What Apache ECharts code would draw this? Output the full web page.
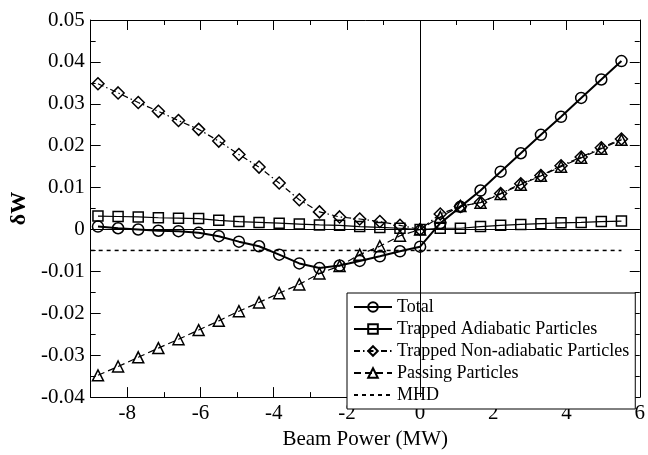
<!DOCTYPE html>
<html>
<head>
<meta charset="utf-8">
<script src="https://cdn.jsdelivr.net/npm/echarts@6/dist/echarts.min.js"></script>
<style>
    html, body { margin: 0; padding: 0; background: #fff; }
    #chart { width: 648px; height: 455px; }
</style>
</head>
<body>
<div id="chart"></div>
<script>
// beam power (MW)
const beamPower = [-8.8, -8.25, -7.7, -7.15, -6.6, -6.05, -5.5, -4.95, -4.4, -3.85, -3.3, -2.75, -2.2,
    -1.65, -1.1, -0.55, 0, 0.55, 1.1, 1.65, 2.2, 2.75, 3.3, 3.85, 4.4, 4.95, 5.5];

const total = [0.0007, 0.0003, 0.0000, -0.0003, -0.0004, -0.0008, -0.0016, -0.0029, -0.0040, -0.0060,
    -0.0081, -0.0092, -0.0086, -0.0075, -0.0064, -0.0052, -0.0041, 0.0015, 0.0054, 0.0093, 0.0138,
    0.0182, 0.0226, 0.0269, 0.0314, 0.0358, 0.0402];

const trappedAdiabatic = [0.0032, 0.0031, 0.0030, 0.0028, 0.0027, 0.0026, 0.0022, 0.0019, 0.0017, 0.0015,
    0.0013, 0.0011, 0.0010, 0.0007, 0.0005, 0.0003, 0.0000, 0.0003, 0.0003, 0.0007, 0.0010,
    0.0012, 0.0014, 0.0016, 0.0017, 0.0019, 0.0020];

const trappedNonAdiabatic = [0.0348, 0.0326, 0.0303, 0.0282, 0.0260, 0.0239, 0.0211, 0.0179, 0.0149, 0.0111,
    0.0071, 0.0042, 0.0030, 0.0025, 0.0019, 0.0010, 0.0000, 0.0037, 0.0055, 0.0065, 0.0086,
    0.0109, 0.0129, 0.0152, 0.0173, 0.0195, 0.0216];

const passing = [-0.0348, -0.0327, -0.0305, -0.0283, -0.0262, -0.0240, -0.0218, -0.0195, -0.0174, -0.0152,
    -0.0131, -0.0105, -0.0087, -0.0060, -0.0040, -0.0015, 0.0000, 0.0030, 0.0056, 0.0064, 0.0085,
    0.0107, 0.0128, 0.0150, 0.0171, 0.0193, 0.0214];

// MHD reference level
const mhdX = [-9, 5.5];
const mhdY = [-0.005, -0.005];

const xMajorTicks = [-8, -6, -4, -2, 0, 2, 4, 6];

function pairs(xs, ys) {
    return xs.map((x, i) => [x, ys[i]]);
}

const font = '"Liberation Serif", "Times New Roman", serif';

let chart = echarts.init(document.getElementById('chart'));

let openMarker = {
    color: 'rgba(0,0,0,0)',
    borderColor: '#000',
    borderWidth: 1.5
};

// short ticks every 1 MW, long ticks every 2 MW
function xAxisPair(pos) {
    let isBottom = pos === 'bottom';
    return [{
        type: 'value', position: pos, min: -9, max: 6, interval: 1,
        axisLine: { show: true, onZero: false, lineStyle: { color: '#000', width: 1 } },
        axisTick: { show: true, inside: true, length: 5, lineStyle: { color: '#000' } },
        axisLabel: {
            show: isBottom, color: '#000', fontFamily: font, fontSize: 21, margin: 6,
            formatter: v => (Math.abs(v) % 2 === 0 ? String(v) : '')
        },
        splitLine: { show: false },
        name: isBottom ? 'Beam Power (MW)' : '',
        nameLocation: 'middle', nameGap: 31,
        nameTextStyle: { color: '#000', fontFamily: font, fontSize: 21 }
    }, {
        type: 'value', position: pos, min: -9, max: 6,
        axisLine: { show: false, onZero: false },
        axisTick: { show: true, inside: true, length: 10, customValues: xMajorTicks, lineStyle: { color: '#000' } },
        axisLabel: { show: false },
        splitLine: { show: false }
    }];
}

function yAxisOf(pos) {
    let isLeft = pos === 'left';
    return {
        type: 'value', position: pos, min: -0.04, max: 0.05, interval: 0.01,
        axisLine: { show: true, onZero: false, lineStyle: { color: '#000', width: 1 } },
        axisTick: { show: true, inside: true, length: 10, lineStyle: { color: '#000' } },
        minorTick: { show: true, splitNumber: 2, length: 5, lineStyle: { color: '#000' } },
        axisLabel: { show: isLeft, color: '#000', fontFamily: font, fontSize: 21, margin: 6 },
        splitLine: { show: false },
        name: isLeft ? 'δW' : '',
        nameLocation: 'middle', nameGap: 54, nameRotate: 90,
        nameTextStyle: { color: '#000', fontFamily: font, fontSize: 22, fontWeight: 'bold' }
    };
}

const option = {
    animation: false,
    backgroundColor: '#fff',
    grid: { left: 86, right: 5, top: 20, bottom: 45 },
    xAxis: xAxisPair('bottom').concat(xAxisPair('top')),
    yAxis: [yAxisOf('left'), yAxisOf('right')],
    legend: {
        orient: 'vertical',
        left: 347, top: 293,
        width: 280,
        padding: [5, 6, 5, 6],
        itemWidth: 38, itemHeight: 12, itemGap: 4,
        borderColor: '#000', borderWidth: 1,
        backgroundColor: '#fff',
        textStyle: { color: '#000', fontFamily: font, fontSize: 18, lineHeight: 18 },
        data: ['Total', 'Trapped Adiabatic Particles', 'Trapped Non-adiabatic Particles', 'Passing Particles',
            { name: 'MHD', itemStyle: { opacity: 0 } }]
    },
    series: [
        {
            name: 'MHD', type: 'line', data: pairs(mhdX, mhdY), symbol: 'none', z: 1,
            lineStyle: { color: '#000', width: 1.5, type: [4, 4] },
            itemStyle: { color: '#000' },
            markLine: {
                silent: true, symbol: ['none', 'none'], label: { show: false },
                lineStyle: { color: '#000', width: 1, type: 'solid' },
                data: [{ xAxis: 0 }, { yAxis: 0 }]
            }
        },
        {
            name: 'Trapped Adiabatic Particles', type: 'line', data: pairs(beamPower, trappedAdiabatic),
            symbol: 'rect', symbolSize: 10,
            lineStyle: { color: '#000', width: 1.2 },
            itemStyle: openMarker
        },
        {
            name: 'Trapped Non-adiabatic Particles', type: 'line', data: pairs(beamPower, trappedNonAdiabatic),
            symbol: 'diamond', symbolSize: 12,
            lineStyle: { color: '#000', width: 1.2, type: [6, 3, 1.5, 3] },
            itemStyle: openMarker
        },
        {
            name: 'Passing Particles', type: 'line', data: pairs(beamPower, passing),
            symbol: 'triangle', symbolSize: 11,
            lineStyle: { color: '#000', width: 1.2, type: [7, 4] },
            itemStyle: openMarker
        },
        {
            name: 'Total', type: 'line', data: pairs(beamPower, total),
            symbol: 'circle', symbolSize: 11,
            lineStyle: { color: '#000', width: 2 },
            itemStyle: openMarker
        }
    ]
};
chart.setOption(option);
</script>
</body>
</html>
